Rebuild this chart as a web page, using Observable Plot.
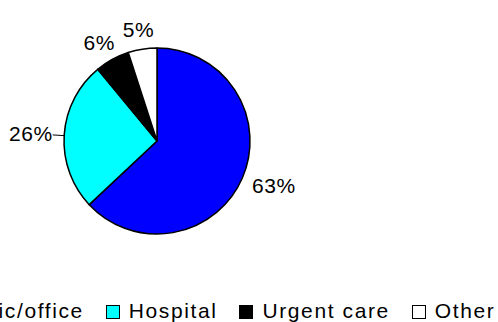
<!DOCTYPE html>
<html><head><meta charset="utf-8">
<script src="https://cdn.jsdelivr.net/npm/d3@7"></script>
<script src="https://cdn.jsdelivr.net/npm/@observablehq/plot@0.6"></script>
<style>
html,body{margin:0;padding:0;background:#fff;overflow:hidden;width:498px;height:322px;}
#chart svg{display:block;}
#chart svg text{letter-spacing:0.6px;}
#legend{height:32px;overflow:visible;white-space:nowrap;font-family:"Liberation Sans",Arial,sans-serif;font-size:21px;line-height:24px;letter-spacing:1.6px;color:#000;}
#legend .row{display:flex;align-items:flex-start;margin-left:-67px;padding-top:9px;}
#legend .item{display:flex;align-items:flex-start;margin-right:22px;}
#legend .sw{width:12px;height:12px;border:1px solid #000;margin-top:6px;margin-right:9px;flex:none;}
</style></head>
<body><div id="chart"></div><div id="legend"></div>
<script>
const categories = ["Clinic/office", "Hospital", "Urgent care", "Other"];
const shares = [63, 26, 6, 5];
const valueLabels = ["63%", "26%", "6%", "5%"];
const colors = ["#0000ff", "#00ffff", "#000000", "#ffffff"];
const leaderFor = ["Hospital"];

const FONT = "'Liberation Sans', Arial, sans-serif";
const R = 93;        // pie radius in px
const PAD = 12;      // label gap in px
const LABEL_SIZE = 21;
const CAP = 15;      // approx cap height px

const rows = categories.map((c, i) => ({name: c, share: shares[i], label: valueLabels[i], color: colors[i]}));
const arcs = d3.pie().sort(null).value(d => d.share)(rows);

const ctx = document.createElement("canvas").getContext("2d");
ctx.font = `${LABEL_SIZE}px ${FONT}`;

const labels = arcs.map(a => {
  const mid = (a.startAngle + a.endAngle) / 2;
  const sx = Math.sin(mid), sy = Math.cos(mid); // y up
  const w = ctx.measureText(a.data.label).width + 0.6 * a.data.label.length;
  const r = (R + PAD) / R;
  return {
    name: a.data.name,
    label: a.data.label,
    ex: sx, ey: sy,
    ax: sx * r, ay: sy * r,
    lx: sx * r + sx * (w / 2) / R,
    ly: sy * r + sy * (CAP / 2) / R
  };
});
const leaders = labels.filter(d => leaderFor.includes(d.name));

function pieMark(index, scales, values, dimensions) {
  const xs = scales && scales.x ? scales.x : d3.scaleLinear([-1, 1], [157 - R, 157 + R]);
  const ys = scales && scales.y ? scales.y : d3.scaleLinear([-1, 1], [141 + R, 141 - R]);
  const cx = xs(0), cy = ys(0), rad = xs(1) - xs(0);
  const arc = d3.arc().innerRadius(0).outerRadius(rad);
  const g = d3.create("svg:g").attr("transform", `translate(${cx},${cy})`);
  g.selectAll("path").data(arcs).join("path")
    .attr("d", arc)
    .attr("fill", d => d.data.color)
    .attr("stroke", "#000")
    .attr("stroke-width", 1.5)
    .attr("stroke-linejoin", "round");
  return g.node();
}

const plot = Plot.plot({
  width: 498,
  height: 290,
  x: {domain: [-1, 1], range: [157 - R, 157 + R], axis: null},
  y: {domain: [-1, 1], range: [141 + R, 141 - R], axis: null},
  style: {fontFamily: FONT, background: "#fff"},
  marks: [
    pieMark,
    Plot.link(leaders, {x1: "ex", y1: "ey", x2: "ax", y2: "ay", stroke: "#000", strokeWidth: 1}),
    Plot.text(labels, {x: "lx", y: "ly", text: "label", fontSize: LABEL_SIZE, fill: "#000"})
  ]
});
document.getElementById("chart").appendChild(plot);

const legend = d3.select("#legend").append("div").attr("class", "row");
const items = legend.selectAll(".item").data(rows).join("div").attr("class", "item");
items.append("div").attr("class", "sw").style("background", d => d.color);
items.append("span").text(d => d.name);
</script>
</body></html>
